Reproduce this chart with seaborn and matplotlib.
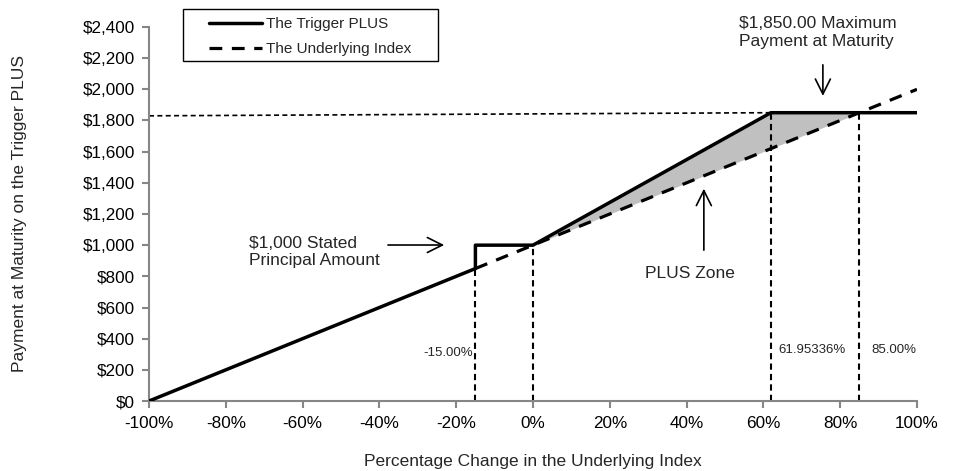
import matplotlib
matplotlib.use("Agg")
import matplotlib.pyplot as plt
from matplotlib.patches import Rectangle
import seaborn as sns
import numpy as np
import pandas as pd

# Data
trigger_x = [-100, -15, -15, 0, 61.95336, 100]
trigger_y = [0, 850, 1000, 1000, 1850, 1850]
index_x = [-15, 100]
index_y = [850, 2000]
zone_x = [0, 61.95336, 85]
zone_top = [1000, 1850, 1850]
zone_bottom = [1000, 1619.53, 1850]
vlines_x = [-15, 0, 61.95336, 85]
vlines_top = [850, 1000, 1850, 1850]
cap_line_x = [-100, 61.95336]
cap_line_y = [1830, 1850]
xticks = [-100, -80, -60, -40, -20, 0, 20, 40, 60, 80, 100]
yticks = list(range(0, 2401, 200))

sns.set_theme(style="white")
plt.rcParams['font.family'] = ['Liberation Sans', 'DejaVu Sans']

fig = plt.figure(figsize=(9.76, 4.71), dpi=100)
ax = fig.add_axes([0.1527, 0.1486, 0.7868, 0.7941])

df_t = pd.DataFrame({"x": trigger_x, "y": trigger_y})
df_i = pd.DataFrame({"x": index_x, "y": index_y})

ax.fill_between(zone_x, zone_bottom, zone_top, color="#c0c0c0", lw=0, zorder=1)
sns.lineplot(data=df_i, x="x", y="y", ax=ax, color="black", lw=2.3, sort=False,
             estimator=None, linestyle=(0, (4, 3)), label="The Underlying Index", zorder=3)
sns.lineplot(data=df_t, x="x", y="y", ax=ax, color="black", lw=2.5, sort=False,
             estimator=None, label="The Trigger PLUS", zorder=4)

for xv, top in zip(vlines_x, vlines_top):
    ax.plot([xv, xv], [0, top], color="black", lw=1.5, linestyle=(0, (3, 2)), zorder=2)
ax.plot(cap_line_x, cap_line_y, color="black", lw=1.2, linestyle=(0, (3, 2)), zorder=2)

ax.text(-28.5, 308, "-15.00%", fontsize=9.5, ha="left", va="center")
ax.text(63.8, 327, "61.95336%", fontsize=9.5, ha="left", va="center")
ax.text(88.2, 327, "85.00%", fontsize=9.5, ha="left", va="center")

arrow = dict(arrowstyle="->,head_length=0.9,head_width=0.45", color="black", lw=1.2)
ax.text(-74, 956, "$1,000 Stated\nPrincipal Amount", fontsize=12.5, ha="left", va="center",
        linespacing=1.2)
ax.annotate("", xy=(-22.4, 1001), xytext=(-38.5, 1001), arrowprops=arrow)
ax.text(29.2, 815, "PLUS Zone", fontsize=12.5, ha="left", va="center")
ax.annotate("", xy=(44.5, 1380), xytext=(44.5, 950), arrowprops=arrow)
ax.text(53.6, 2365, "$1,850.00 Maximum\nPayment at Maturity", fontsize=12.5, ha="left", va="center",
        linespacing=1.2)
ax.annotate("", xy=(75.5, 1940), xytext=(75.5, 2175), arrowprops=arrow, annotation_clip=False)

ax.set_xlim(-100, 100)
ax.set_ylim(0, 2400)
ax.set_xticks(xticks)
ax.set_xticklabels([f"{v}%" for v in xticks])
ax.set_yticks(yticks)
ax.set_yticklabels([f"${v:,}" for v in yticks])
ax.tick_params(axis="both", labelsize=12.3, colors="black", length=5, width=1.5,
               direction="out", bottom=True, left=True, color="#868686")
ax.tick_params(axis="x", pad=6)
ax.tick_params(axis="y", pad=5)
for s in ["top", "right"]:
    ax.spines[s].set_visible(False)
for s in ["left", "bottom"]:
    ax.spines[s].set_color("#868686")
    ax.spines[s].set_linewidth(1.5)
ax.set_xlabel("Percentage Change in the Underlying Index", fontsize=12.5, labelpad=16)
ax.set_ylabel("Payment at Maturity on the Trigger PLUS", fontsize=12.5, labelpad=40)

h, l = ax.get_legend_handles_labels()
order = [l.index("The Trigger PLUS"), l.index("The Underlying Index")]
leg = ax.legend([h[i] for i in order], [l[i] for i in order],
                loc="upper left", bbox_to_anchor=(209/976, 1 - 17/471),
                bbox_transform=fig.transFigure, frameon=False,
                fontsize=11, handlelength=3.5, handletextpad=0.2, borderpad=0,
                labelspacing=0.72, borderaxespad=0)
fig.add_artist(Rectangle((183/976, 1 - 61/471), (438 - 183)/976, 52/471,
                         transform=fig.transFigure, fill=False, ec="black", lw=1.0))

fig.savefig("out.png", dpi=100)
